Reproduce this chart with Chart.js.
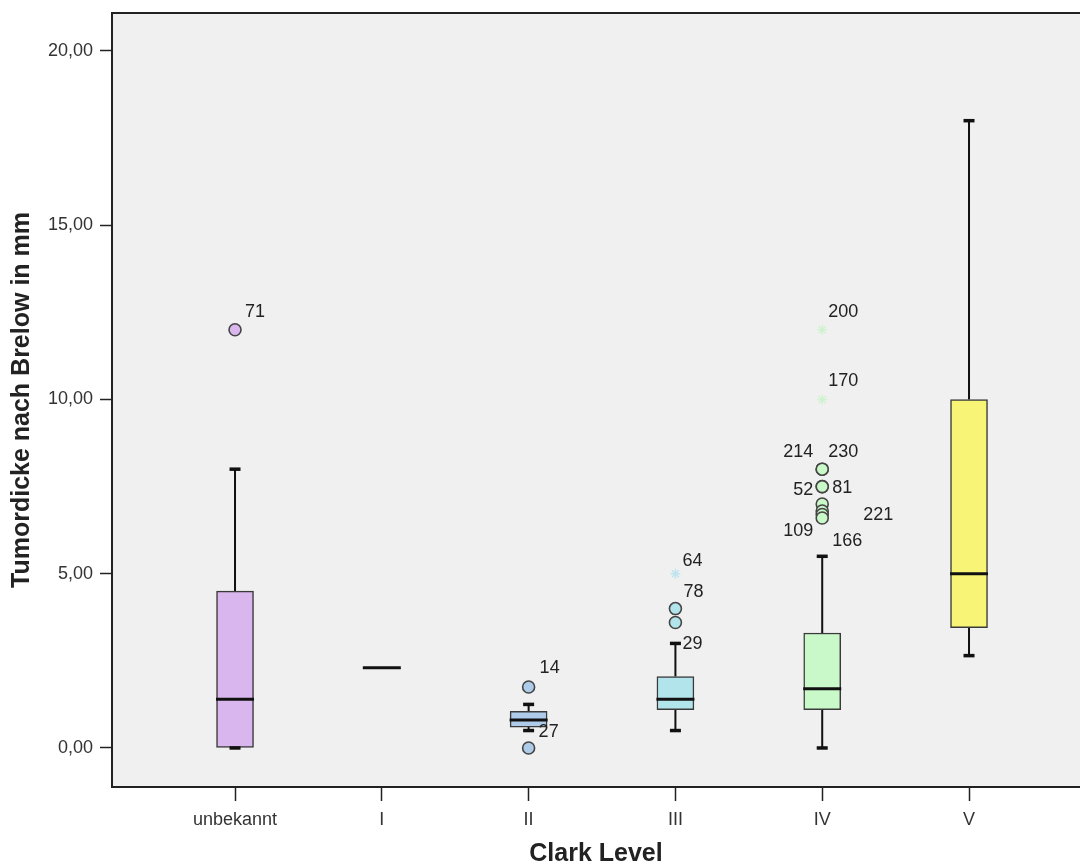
<!DOCTYPE html>
<html>
<head>
<meta charset="utf-8">
<script src="https://cdn.jsdelivr.net/npm/chart.js@4.4.1/dist/chart.umd.min.js"></script>
<style>
  html, body { margin: 0; padding: 0; background: #ffffff; overflow: hidden; }
  #wrap { width: 1080px; height: 867px; }
</style>
</head>
<body>
<div id="wrap"><canvas id="boxChart" width="1080" height="867"></canvas></div>
<script>
// ── Data ─────────────────────────────────────────────────────────────────
const categories  = ['unbekannt', 'I', 'II', 'III', 'IV', 'V'];
const lowWhisker  = [0,   2.3, 0.5,  0.5,  0,   2.65];
const q1          = [0,   2.3, 0.6,  1.1,  1.1, 3.45];
const median      = [1.4, 2.3, 0.8,  1.4,  1.7, 5];
const q3          = [4.5, 2.3, 1.05, 2.05, 3.3, 10];
const highWhisker = [8,   2.3, 1.25, 3,    5.5, 18];

// circles (outliers)
const outlierGroup = [0,    2,    2,    3,    3,    4,     4,     4,     4,    4,     4,   4,     4];
const outlierValue = [12,   1.75, 0,    4,    3.6,  8,     8,     7.5,   7.5,  7,     6.8, 6.7,   6.6];
const outlierCase  = ['71', '14', '27', '78', '29', '214', '230', '52',  '81', '221', '',  '109', '166'];

// stars (extremes)
const extremeGroup = [3,    4,     4];
const extremeValue = [5,    12,    10];
const extremeCase  = ['64', '200', '170'];

const yTicks = [0, 5, 10, 15, 20];

// ── Styling ──────────────────────────────────────────────────────────────
const boxColors  = ['#dab6ee', '#dab6ee', '#aecbea', '#b2e4ec', '#c9f9c9', '#f8f476'];
const starColors = ['#d8c8ee', '#d8c8ee', '#c4dcf0', '#bfe4ee', '#d0f2d0', '#f4f0a0'];
// case-number label offsets (px) from their marker, left edge / middle
const outlierLabelOffset = [
  [10, -18], [11, -19], [10, -16], [8, -17], [7, 22],
  [-39, -17], [6, -17], [-29, 3], [10, 1], [41, 11], [0, 0], [-39, 17], [10, 23]
];
const extremeLabelOffset = [[7, -13], [6, -18], [6, -18]];

const FONT = "'Liberation Sans', Arial, sans-serif";

// ── Derived point lists ──────────────────────────────────────────────────
const whiskerPts = [];
categories.forEach((c, i) => {
  if (highWhisker[i] === lowWhisker[i]) return;
  whiskerPts.push({ x: i, y: lowWhisker[i] }, { x: i, y: q1[i] }, { x: i, y: null });
  whiskerPts.push({ x: i, y: q3[i] }, { x: i, y: highWhisker[i] }, { x: i, y: null });
});
const capPts = [];
categories.forEach((c, i) => {
  if (highWhisker[i] === lowWhisker[i]) return;
  capPts.push({ x: i, y: lowWhisker[i] }, { x: i, y: highWhisker[i] });
});

// ── Plugins ──────────────────────────────────────────────────────────────
const plotFrame = {
  id: 'plotFrame',
  beforeDraw(chart) {
    const { ctx, chartArea: a } = chart;
    ctx.save();
    ctx.fillStyle = '#f0f0f0';
    ctx.fillRect(a.left, a.top, a.right - a.left, a.bottom - a.top);
    ctx.restore();
  },
  afterDraw(chart) {
    const { ctx, chartArea: a } = chart;
    ctx.save();
    ctx.strokeStyle = '#222';
    ctx.lineWidth = 2;
    ctx.beginPath();
    ctx.moveTo(a.left - 1, a.top);
    ctx.lineTo(a.right, a.top);
    ctx.stroke();
    ctx.restore();
  }
};

const caseLabels = {
  id: 'caseLabels',
  afterDatasetsDraw(chart) {
    const { ctx } = chart;
    ctx.save();
    ctx.font = '18px ' + FONT;
    ctx.fillStyle = '#222';
    ctx.textAlign = 'left';
    ctx.textBaseline = 'middle';
    const draw = (dsIndex, texts, offsets) => {
      chart.getDatasetMeta(dsIndex).data.forEach((pt, j) => {
        if (!texts[j]) return;
        ctx.fillText(texts[j], pt.x + offsets[j][0], pt.y + offsets[j][1]);
      });
    };
    draw(4, outlierCase, outlierLabelOffset);
    draw(5, extremeCase, extremeLabelOffset);
    ctx.restore();
  }
};

// fixed axis boxes, no extra label overhang padding
const fixBox = size => s => {
  if (s.isHorizontal()) s.height = size; else s.width = size;
  s.paddingTop = s.paddingBottom = s.paddingLeft = s.paddingRight = 0;
};

// ── Chart ────────────────────────────────────────────────────────────────
new Chart(document.getElementById('boxChart'), {
  type: 'bar',
  data: {
    datasets: [
      { // 0: boxes
        type: 'bar', order: 2,
        data: categories.map((c, i) => ({ x: i, y: [q1[i], q3[i]] })),
        backgroundColor: boxColors, borderColor: '#3a3a3a', borderWidth: 1.5,
        borderSkipped: false, barThickness: 37
      },
      { // 1: whiskers
        type: 'line', order: 3, data: whiskerPts,
        borderColor: '#111', borderWidth: 2, pointRadius: 0, spanGaps: false
      },
      { // 2: whisker caps
        type: 'scatter', order: 1, data: capPts,
        pointStyle: 'line', pointRadius: 5.5, borderColor: '#111', borderWidth: 3.5
      },
      { // 3: medians
        type: 'scatter', order: 1,
        data: categories.map((c, i) => ({ x: i, y: median[i] })),
        pointStyle: 'line', pointRadius: 19, borderColor: '#111', borderWidth: 3
      },
      { // 4: outliers
        type: 'scatter', order: 0,
        data: outlierValue.map((v, j) => ({ x: outlierGroup[j], y: v })),
        pointStyle: 'circle', pointRadius: 6,
        backgroundColor: outlierGroup.map(g => boxColors[g]),
        borderColor: '#454545', borderWidth: 1.6
      },
      { // 5: extremes
        type: 'scatter', order: 0,
        data: extremeValue.map((v, j) => ({ x: extremeGroup[j], y: v })),
        pointStyle: 'star', pointRadius: 5,
        backgroundColor: extremeGroup.map(g => starColors[g]),
        borderColor: extremeGroup.map(g => starColors[g]), borderWidth: 1.5
      }
    ]
  },
  options: {
    responsive: false,
    animation: false,
    layout: { autoPadding: false, padding: { top: 13, right: 0, bottom: 0, left: 0 } },
    plugins: { legend: { display: false }, tooltip: { enabled: false } },
    scales: {
      x: {
        type: 'linear', min: -0.838, max: 5.756, offset: false,
        afterFit: fixBox(80),
        afterBuildTicks: s => { s.ticks = categories.map((c, i) => ({ value: i })); },
        ticks: {
          autoSkip: false, maxRotation: 0, padding: 8, color: '#333',
          font: { family: FONT, size: 18 },
          callback: v => categories[v]
        },
        grid: { offset: false, drawOnChartArea: false, drawTicks: true, tickLength: 14, tickColor: '#222', tickWidth: 1.5 },
        border: { display: true, color: '#222', width: 2 },
        title: {
          display: true, text: 'Clark Level', color: '#222',
          font: { family: FONT, size: 25, weight: 'bold', lineHeight: 1 },
          padding: { top: 0, bottom: 0 }
        }
      },
      y: {
        type: 'linear', min: -1.12, max: 21.09,
        afterFit: fixBox(112),
        afterBuildTicks: s => { s.ticks = yTicks.map(v => ({ value: v })); },
        ticks: {
          padding: 7, color: '#333',
          font: { family: FONT, size: 18 },
          callback: v => v.toFixed(2).replace('.', ',')
        },
        grid: { drawOnChartArea: false, drawTicks: true, tickLength: 12, tickColor: '#222', tickWidth: 1.5 },
        border: { display: true, color: '#222', width: 2 },
        title: {
          display: true, text: 'Tumordicke nach Brelow in mm', color: '#222',
          font: { family: FONT, size: 25, weight: 'bold', lineHeight: 1 },
          padding: { top: 10, bottom: 0 }
        }
      }
    }
  },
  plugins: [plotFrame, caseLabels]
});
</script>
</body>
</html>
